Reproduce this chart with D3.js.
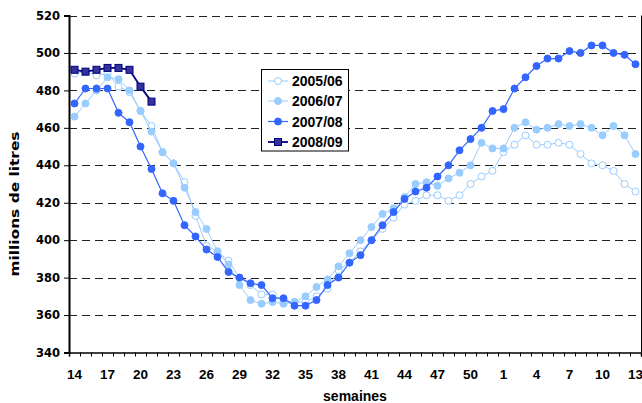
<!DOCTYPE html>
<html>
<head>
<meta charset="utf-8">
<script src="https://cdn.jsdelivr.net/npm/d3@7"></script>
<style>
  body { margin: 0; background: #fff; }
  svg { display: block; }
  text { font-family: "Liberation Sans", Arial, sans-serif; font-weight: bold; fill: #000; }
</style>
</head>
<body>
<script>
// weeks, from week 14 of one year to week 13 of the next
const weeks = [14, 15, 16, 17, 18, 19, 20, 21, 22, 23, 24, 25, 26, 27, 28, 29, 30, 31, 32, 33,
  34, 35, 36, 37, 38, 39, 40, 41, 42, 43, 44, 45, 46, 47, 48, 49, 50, 51, 52,
  1, 2, 3, 4, 5, 6, 7, 8, 9, 10, 11, 12, 13]
const weekLabels = [14, 17, 20, 23, 26, 29, 32, 35, 38, 41, 44, 47, 50, 1, 4, 7, 10, 13]
const yTicks = [340, 360, 380, 400, 420, 440, 460, 480, 500, 520]

const s0506 = [489, 490, 488, 489, 482, 479, 469, 461, 447, 441, 431, 413, 397, 394, 389, 380, 376, 371, 371, 367,
  367, 367, 370, 374, 384, 388, 394, 400, 406, 412, 419, 421, 424, 424, 421, 424, 430, 434, 437,
  447, 451, 456, 451, 451, 452, 451, 446, 441, 440, 437, 430, 426]
const s0607 = [466, 473, 480, 487, 486, 480, 469, 458, 447, 441, 428, 415, 406, 394, 387, 376, 368, 366, 367, 366,
  367, 370, 375, 379, 386, 393, 400, 407, 414, 417, 423, 430, 431, 429, 433, 436, 440, 452, 449,
  449, 460, 463, 459, 460, 462, 461, 462, 460, 456, 461, 456, 446]
const s0708 = [473, 481, 481, 481, 468, 463, 450, 438, 425, 421, 408, 402, 395, 391, 383, 380, 377, 376, 369, 369,
  365, 365, 368, 376, 380, 388, 392, 400, 408, 415, 422, 426, 428, 434, 440, 448, 454, 460, 469,
  470, 481, 487, 493, 497, 497, 501, 500, 504, 504, 500, 499, 494]
const s0809 = [491, 490, 491, 492, 492, 491, 482, 474]

const seriesNames = ['2005/06', '2006/07', '2007/08', '2008/09']

const series = [
  { name: seriesNames[0], values: s0506, line: '#99ccff', fill: '#fff', stroke: '#99ccff', shape: 'circle', lw: 1 },
  { name: seriesNames[1], values: s0607, line: '#99ccff', fill: '#99ccff', stroke: '#99ccff', shape: 'circle', lw: 1 },
  { name: seriesNames[2], values: s0708, line: '#3366ff', fill: '#3366ff', stroke: '#3366ff', shape: 'circle', lw: 1.2 },
  { name: seriesNames[3], values: s0809, line: '#000080', fill: '#333399', stroke: '#000080', shape: 'square', lw: 1.8 }
]

const W = 642, H = 403
const plotLeft = 69, plotRight = 641, plotTop = 15.5, plotBottom = 352.5

const svg = d3.select('body').append('svg')
  .attr('width', W)
  .attr('height', H)

const x = d3.scaleBand()
  .domain(weeks.map(String))
  .range([plotLeft, plotRight])
  .padding(0)

const y = d3.scaleLinear()
  .domain([340, 520])
  .range([plotBottom, plotTop])

const xc = (i) => x(String(weeks[i])) + x.bandwidth() / 2

// dashed gridlines
svg.append('g')
  .selectAll('line')
  .data(yTicks.filter(d => d > 340))
  .enter()
  .append('line')
  .attr('x1', plotLeft)
  .attr('x2', plotRight)
  .attr('y1', d => Math.round(y(d)) + 0.5)
  .attr('y2', d => Math.round(y(d)) + 0.5)
  .attr('stroke', '#222')
  .attr('stroke-width', 1)
  .attr('stroke-dasharray', '8,5')

// right border
svg.append('line')
  .attr('x1', plotRight + 0.5).attr('x2', plotRight + 0.5)
  .attr('y1', plotTop).attr('y2', plotBottom)
  .attr('stroke', '#000')

// y axis
const yAxis = svg.append('g')
  .attr('transform', `translate(${plotLeft},0)`)
  .call(d3.axisLeft(y).tickValues(yTicks).tickSize(5).tickPadding(4))
yAxis.select('.domain').attr('stroke-width', 2)
yAxis.selectAll('text')
  .style('font-family', '"DejaVu Sans", sans-serif')
  .style('font-size', '11.5px')
  .style('font-weight', 'bold')
  .attr('fill', '#000')

// x axis: tick marks on category boundaries
const xBound = d3.scaleLinear().domain([0, weeks.length]).range([plotLeft, plotRight])
const xTickAxis = svg.append('g')
  .attr('transform', `translate(0,${plotBottom})`)
  .call(d3.axisBottom(xBound).tickValues(d3.range(weeks.length + 1)).tickSize(4).tickFormat(''))
xTickAxis.select('.domain').attr('stroke-width', 1.5)

// x axis labels every 3 weeks
const xLabAxis = svg.append('g')
  .attr('transform', `translate(0,${plotBottom})`)
  .call(d3.axisBottom(x).tickValues(weekLabels.map(String)).tickSize(0))
xLabAxis.select('.domain').remove()
xLabAxis.selectAll('text')
  .attr('y', 26.5)
  .attr('dy', 0)
  .style('font-family', '"Liberation Sans", Arial, sans-serif')
  .style('font-size', '13.5px')
  .style('font-weight', 'bold')
  .attr('fill', '#000')

// axis titles
svg.append('text')
  .attr('x', (plotLeft + plotRight) / 2)
  .attr('y', 401)
  .attr('text-anchor', 'middle')
  .style('font-size', '14px')
  .text('semaines')

svg.append('text')
  .attr('transform', 'translate(18.5,204) rotate(-90)')
  .attr('text-anchor', 'middle')
  .attr('textLength', 145)
  .attr('lengthAdjust', 'spacingAndGlyphs')
  .style('font-family', '"DejaVu Sans", sans-serif')
  .style('font-size', '12.5px')
  .text('millions de litres')

// lines and markers
const line = d3.line()
  .x((d, i) => xc(i))
  .y(d => y(d))

const drawMarker = (g, s, cx, cy) => {
  if (s.shape === 'square') {
    g.append('rect')
      .attr('x', cx - 3.5).attr('y', cy - 3.5)
      .attr('width', 7).attr('height', 7)
      .attr('fill', s.fill).attr('stroke', s.stroke).attr('stroke-width', 1)
  } else {
    g.append('circle')
      .attr('cx', cx).attr('cy', cy).attr('r', 3.5)
      .attr('fill', s.fill).attr('stroke', s.stroke).attr('stroke-width', 1)
  }
}

series.forEach(s => {
  const g = svg.append('g')
  g.append('path')
    .datum(s.values)
    .attr('d', line)
    .attr('fill', 'none')
    .attr('stroke', s.line)
    .attr('stroke-width', s.lw)
  s.values.forEach((v, i) => drawMarker(g, s, xc(i), y(v)))
})

// legend
const lg = svg.append('g')
lg.append('rect')
  .attr('x', 261.5).attr('y', 69.5)
  .attr('width', 87).attr('height', 81.5)
  .attr('fill', '#fff').attr('stroke', '#000').attr('stroke-width', 1)

const legendY = [81, 101, 121.5, 142]
series.forEach((s, i) => {
  const cy = legendY[i]
  lg.append('line')
    .attr('x1', 268).attr('x2', 288)
    .attr('y1', cy).attr('y2', cy)
    .attr('stroke', s.line).attr('stroke-width', s.lw)
  drawMarker(lg, s, 278, cy)
  lg.append('text')
    .attr('x', 292)
    .attr('y', cy + 5)
    .style('font-size', '14px')
    .text(s.name)
})
</script>
</body>
</html>
